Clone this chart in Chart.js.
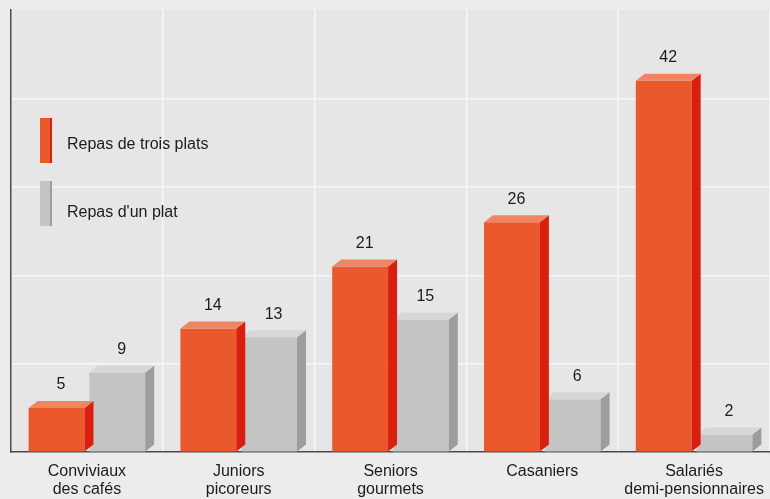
<!DOCTYPE html>
<html>
<head>
<meta charset="utf-8">
<script src="https://cdn.jsdelivr.net/npm/chart.js@4/dist/chart.umd.min.js"></script>
<style>
  html, body { margin: 0; padding: 0; background: #ececec; }
  #wrap { width: 770px; height: 499px; }
</style>
</head>
<body>
<div id="wrap"><canvas id="myChart" width="770" height="499"></canvas></div>
<script>
// data
const categories = [
    ["Conviviaux", "des cafés"],
    ["Juniors", "picoreurs"],
    ["Seniors", "gourmets"],
    ["Casaniers"],
    ["Salariés", "demi-pensionnaires"]
];
const threeCourse = [5, 14, 21, 26, 42];
const oneCourse   = [9, 13, 15, 6, 2];
const seriesNames = ["Repas de trois plats", "Repas d'un plat"];

// front / top / side colours for the fake 3D boxes
const faces = [
    { front: "#e9592c", top: "#f08562", side: "#dc1e0e" },
    { front: "#c4c4c4", top: "#d7d7d7", side: "#9d9d9d" }
];
const DX = 9, DY = 7;
const FONT = "'Liberation Sans', Arial, sans-serif";
const GRID = "#f7f7f7";

const boxPlugin = {
    id: "box3d",
    beforeDraw(chart) {
        const { ctx, chartArea: a } = chart;
        ctx.save();
        ctx.fillStyle = "#ececec";
        ctx.fillRect(0, 0, chart.width, chart.height);
        ctx.fillStyle = "#e6e6e6";
        ctx.fillRect(a.left, a.top, a.right - a.left, a.bottom - a.top);
        ctx.restore();
    },
    afterDatasetDraw(chart, args) {
        const { ctx } = chart;
        const f = faces[args.index];
        ctx.save();
        args.meta.data.forEach((bar, i) => {
            const left  = bar.x - bar.width / 2;
            const right = bar.x + bar.width / 2;
            const top   = bar.y;
            const base  = bar.base;
            // side face
            ctx.fillStyle = f.side;
            ctx.beginPath();
            ctx.moveTo(right, top);
            ctx.lineTo(right + DX, top - DY);
            ctx.lineTo(right + DX, base - DY);
            ctx.lineTo(right, base);
            ctx.closePath();
            ctx.fill();
            // top face
            ctx.fillStyle = f.top;
            ctx.beginPath();
            ctx.moveTo(left, top);
            ctx.lineTo(left + DX, top - DY);
            ctx.lineTo(right + DX, top - DY);
            ctx.lineTo(right, top);
            ctx.closePath();
            ctx.fill();
            // value label
            ctx.fillStyle = "#1c1c1c";
            ctx.font = "16px " + FONT;
            ctx.textAlign = "center";
            ctx.textBaseline = "middle";
            ctx.fillText(chart.data.datasets[args.index].data[i], bar.x + DX / 2, top - DY - 16);
        });
        ctx.restore();
    },
    afterDraw(chart) {
        // legend inside the plot, top left
        const { ctx } = chart;
        const rows = [{ y: 118, ty: 145 }, { y: 181, ty: 213 }];
        ctx.save();
        rows.forEach((r, i) => {
            ctx.fillStyle = faces[i].front;
            ctx.fillRect(40, r.y, 10, 45);
            ctx.fillStyle = faces[i].side;
            ctx.fillRect(50, r.y, 2, 45);
            ctx.fillStyle = "#1c1c1c";
            ctx.font = "16px " + FONT;
            ctx.textAlign = "left";
            ctx.textBaseline = "middle";
            ctx.fillText(seriesNames[i], 67, r.ty);
        });
        ctx.restore();
    }
};

const ctx = document.getElementById("myChart").getContext("2d");
new Chart(ctx, {
    type: "bar",
    data: {
        labels: categories,
        datasets: [
            {
                label          : seriesNames[0],
                data           : threeCourse,
                backgroundColor: faces[0].front,
                order          : 0
            },
            {
                label          : seriesNames[1],
                data           : oneCourse,
                backgroundColor: faces[1].front,
                order          : 1
            }
        ]
    },
    options: {
        responsive: false,
        animation : false,
        layout    : { padding: { left: 11, top: 10, right: -8, bottom: -10 } },
        datasets  : { bar: { categoryPercentage: 0.8, barPercentage: 0.92 } },
        plugins   : { legend: { display: false }, tooltip: { enabled: false } },
        scales    : {
            x: {
                afterFit: (scale) => { scale.paddingRight = 0; scale.paddingLeft = 0; },
                grid  : { color: (c) => c.index === categories.length ? "rgba(0,0,0,0)" : GRID, lineWidth: 1.5, drawTicks: false },
                border: { color: "#4a4a4a", width: 1.5 },
                ticks : { color: "#1c1c1c", font: { family: FONT, size: 16, lineHeight: 1.15 }, padding: 10, maxRotation: 0, autoSkip: false }
            },
            y: {
                min   : 0,
                max   : 50,
                grid  : { color: (c) => c.tick && c.tick.value === 50 ? "rgba(0,0,0,0)" : GRID, lineWidth: 1.5, drawTicks: false },
                border: { color: "#4a4a4a", width: 1.5 },
                ticks : { display: false, stepSize: 10 }
            }
        }
    },
    plugins: [boxPlugin]
});
</script>
</body>
</html>
